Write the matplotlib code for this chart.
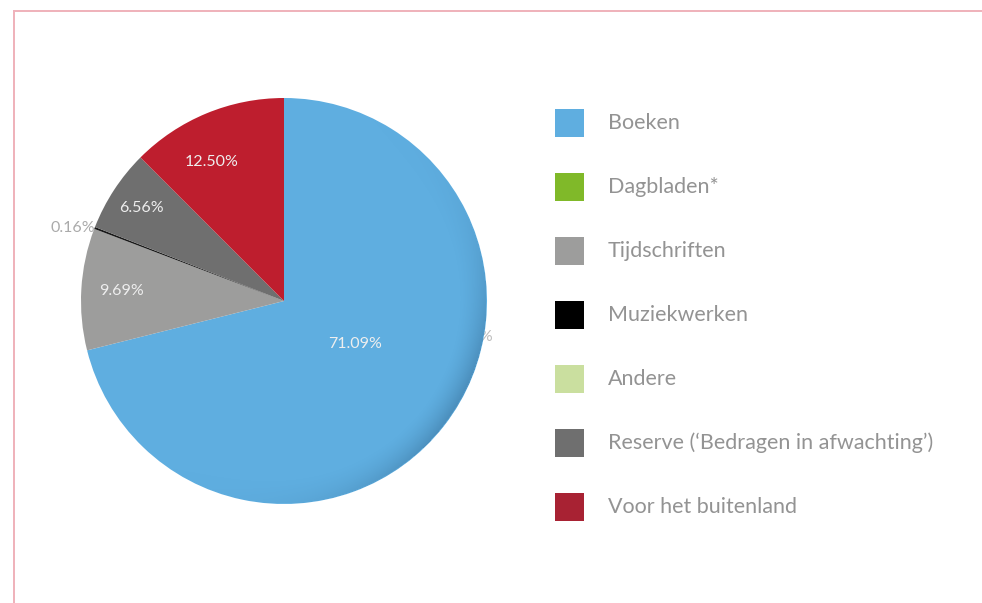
import numpy as np
import matplotlib
matplotlib.use('Agg')
import matplotlib.pyplot as plt
from matplotlib.patches import Rectangle
from matplotlib.lines import Line2D

# Data
categories = ['Boeken', 'Dagbladen*', 'Tijdschriften', 'Muziekwerken', 'Andere',
              'Reserve (\u2018Bedragen in afwachting\u2019)', 'Voor het buitenland']
shares = [71.09, 0.0, 9.69, 0.16, 0.0, 6.56, 12.50]
pie_colors = ['#5faee0', '#80b929', '#9d9d9c', '#1a1a1a', '#cadf9f', '#6f6f6f', '#be1e2e']
legend_colors = ['#5faee0', '#80b929', '#9d9d9c', '#000000', '#cadf9f', '#6f6f6f', '#a82233']

FONT = ['Lato', 'DejaVu Sans']
W, H = 982, 603
fig = plt.figure(figsize=(W / 100, H / 100), dpi=100)
fig.patch.set_facecolor('white')

# pink frame
fig.add_artist(Line2D([14 / W, 1], [1 - 10.5 / H, 1 - 10.5 / H], color='#efb1ba', lw=1.4))
fig.add_artist(Line2D([14 / W, 14 / W], [0, 1 - 10.5 / H], color='#efb1ba', lw=1.4))

# pie axes: center (284, 300) px, radius 204 px
cx, cy, R = 284, 301, 203
half = 230
ax = fig.add_axes([(cx - half) / W, (H - cy - half) / H, 2 * half / W, 2 * half / H])
lim = half / R

# hidden label behind the pie (only '%' peeks out)
ax.text((493 - cx) / R, (cy - 337) / R, '0.00%', ha='right', va='center', fontsize=11.5,
        color='#bdbdbd', family=FONT, zorder=0)

wedges, _ = ax.pie(shares, colors=pie_colors, startangle=90, counterclock=False,
                   radius=1, center=(0, 0), frame=True,
                   wedgeprops=dict(linewidth=0))
for w in wedges:
    w.set_zorder(2)
ax.set_xlim(-lim, lim)
ax.set_ylim(-lim, lim)
ax.set_aspect('equal')
ax.axis('off')

# soft shading on the right edge of the big slice
n = 400
xs = np.linspace(-1, 1, n)
X, Y = np.meshgrid(xs, xs)
r = np.hypot(X, Y)
th = np.degrees(np.arctan2(Y, X))
fr = np.clip((r - 0.86) / 0.14, 0, 1) ** 1.6
gth = np.exp(-((th + 30) / 45) ** 2)
alpha = 0.32 * fr * gth * (r <= 1)
rgba = np.zeros((n, n, 4))
rgba[..., 0] = 0.12
rgba[..., 1] = 0.28
rgba[..., 2] = 0.42
rgba[..., 3] = alpha
im = ax.imshow(rgba, extent=(-1, 1, -1, 1), origin='lower', zorder=3, interpolation='bilinear')
im.set_clip_path(wedges[0])

# percentage labels
label_r = [0.41, None, 0.80, 1.10, None, 0.84, 0.77]
label_shift = [7, 0, 0, 2, 0, 0, 5]
theta = 90.0
for i, v in enumerate(shares):
    span = v / 100 * 360
    mid = theta - span / 2
    theta -= span
    if label_r[i] is None:
        continue
    a = np.radians(mid + label_shift[i])
    outside = label_r[i] > 1
    ax.text(label_r[i] * np.cos(a), label_r[i] * np.sin(a), '%.2f%%' % v,
            ha='center', va='center', fontsize=11.5, family=FONT,
            color='#aaaaaa' if outside else '#eeeeee', zorder=5)

# legend
for i, name in enumerate(categories):
    yc = 123 + 64 * i
    fig.add_artist(Rectangle((555 / W, 1 - (yc + 14) / H), 29 / W, 28 / H,
                             facecolor=legend_colors[i], edgecolor='none'))
    fig.text(608 / W, 1 - yc / H, name, ha='left', va='center', fontsize=15.5,
             color='#939393', family=FONT)

fig.savefig('out.png', dpi=100)
